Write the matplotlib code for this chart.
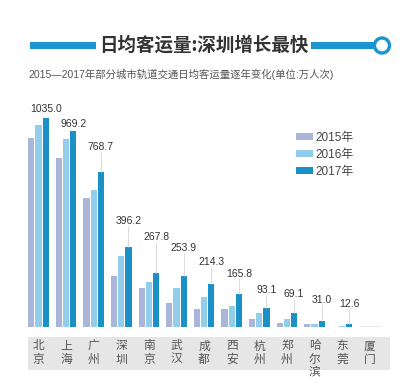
import matplotlib
matplotlib.use("Agg")
import matplotlib.pyplot as plt
from matplotlib.patches import Rectangle, Circle
import numpy as np

plt.rcParams['font.family'] = ['Liberation Sans', 'Noto Sans CJK SC', 'DejaVu Sans']

cities = ["北京", "上海", "广州", "深圳", "南京", "武汉", "成都", "西安", "杭州", "郑州", "哈尔滨", "东莞", "厦门"]
years = ["2015年", "2016年", "2017年"]
v2015 = [936, 836, 639, 252, 193, 119, 89, 89, 38, 22, 15, 0, 0]
v2016 = [1000, 930, 678, 351, 223, 193, 148, 104, 70, 40, 16, 5, 0]
v2017 = [1035.0, 969.2, 768.7, 396.2, 267.8, 253.9, 214.3, 165.8, 93.1, 69.1, 31.0, 12.6, 0]
labels2017 = ["1035.0", "969.2", "768.7", "396.2", "267.8", "253.9", "214.3", "165.8", "93.1", "69.1", "31.0", "12.6", ""]

colors = ["#a9b6d9", "#92cdeb", "#1b90c6"]
blue = "#1a95cf"

W, H = 400, 385
fig = plt.figure(figsize=(W / 100, H / 100), dpi=100)

# overlay in pixel coordinates
ov = fig.add_axes([0, 0, 1, 1], zorder=0)
ov.set_xlim(0, W)
ov.set_ylim(H, 0)
ov.axis("off")

# title decorations
ov.add_patch(Rectangle((30, 41.5), 66, 7, color=blue, lw=0))
ov.add_patch(Rectangle((311, 41.5), 64, 7, color=blue, lw=0))
ov.add_patch(Circle((382, 45.5), 7.5, facecolor="white", edgecolor=blue, lw=2.4, zorder=3))
ov.text(204, 45, "日均客运量:深圳增长最快", fontsize=13.3, fontweight="bold", color="#333333",
        ha="center", va="center", family=["Noto Sans CJK SC"])
ov.text(28, 74, "2015—2017年部分城市轨道交通日均客运量逐年变化(单位:万人次)", fontsize=7.5,
        color="#555555", ha="left", va="center", family=["Liberation Sans", "Noto Sans CJK SC"])

# grey label band
ov.add_patch(Rectangle((28, 337), 362, 33, color="#e6e6e6", lw=0))

# main axes
base_px = 327
top_px = 100
left_px, right_px = 28, 390
ax = fig.add_axes([left_px / W, (H - base_px) / H, (right_px - left_px) / W, (base_px - top_px) / H], zorder=1)
ax.patch.set_alpha(0)
scale = 0.202  # px per unit
ax.set_ylim(0, (base_px - top_px) / scale)
step = 27.6
ax.set_xlim((left_px - 38.5) / step, (right_px - 38.5) / step)

x = np.arange(len(cities))
bw = 0.22
offs = [-0.26, 0, 0.26]
for vals, c, o, lab in zip([v2015, v2016, v2017], colors, offs, years):
    ax.bar(x + o, vals, width=bw, color=c, label=lab, lw=0)

# value labels with leader lines
gaps = [9, 7, 25, 26, 36, 28, 22, 20, 18, 19, 21, 20, 0]
for i, (v, t, g) in enumerate(zip(v2017, labels2017, gaps)):
    if not t:
        continue
    ly = v + g / scale
    ax.text(x[i] + offs[2], ly, t, ha="center", va="center", fontsize=7.5, color="#333333")
    if g > 12:
        ax.plot([x[i] + offs[2]] * 2, [v, ly - 5 / scale], color="#cccccc", lw=0.5)

# Xiamen zero marker
ax.plot([x[12] - 0.35, x[12] + 0.38], [0, 0], color="#555555", lw=0.9)

for s in ax.spines.values():
    s.set_visible(False)
ax.set_yticks([])
ax.set_xticks(x)
ax.set_xticklabels(["\n".join(c) for c in cities], fontsize=8.5, color="#555555", linespacing=1.0,
                   va="top", family=["Noto Sans CJK SC"])
ax.tick_params(axis="x", length=0, pad=9)

leg = ax.legend(loc="upper left", bbox_to_anchor=(296 / W, (H - 132) / H), bbox_transform=fig.transFigure,
                frameon=False, fontsize=8.5, handlelength=1.4, handleheight=0.5, handletextpad=0.25,
                labelspacing=0.42, borderaxespad=0, borderpad=0)
for t in leg.get_texts():
    t.set_color("#444444")

fig.savefig("out.png", dpi=100)
